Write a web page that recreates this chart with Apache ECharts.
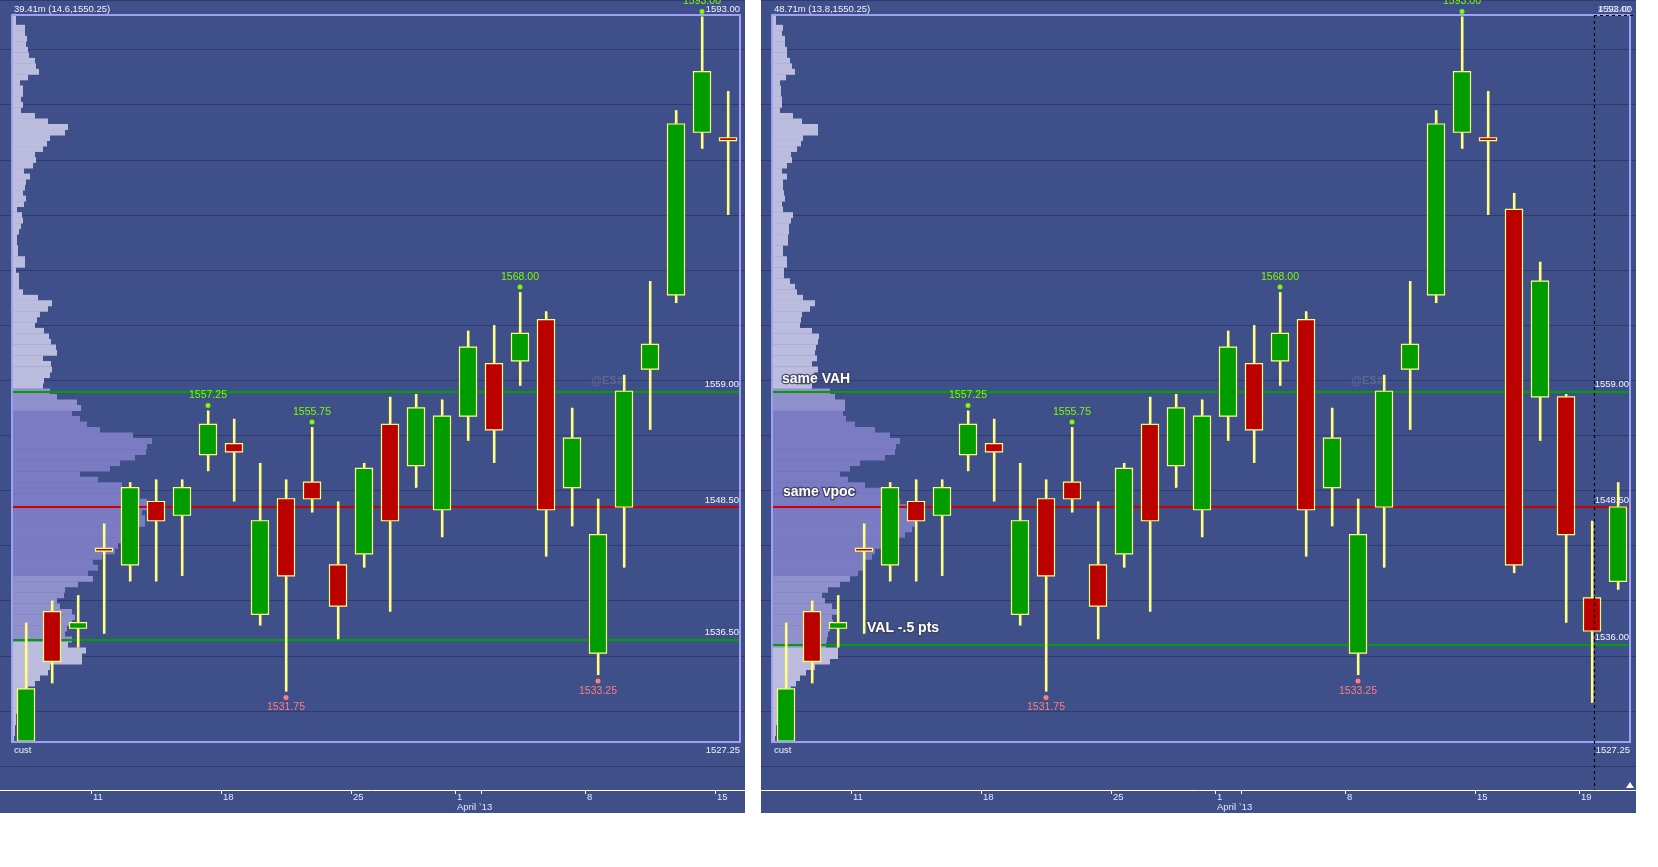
<!DOCTYPE html>
<html><head><meta charset="utf-8">
<script src="https://cdn.jsdelivr.net/npm/echarts@6/dist/echarts.min.js"></script>
<style>html,body{margin:0;padding:0;background:#fff}#c{width:1658px;height:867px}</style>
</head><body><div id="c"></div>
<script>
// ---------- DATA ----------
const dates = ['2013-03-06','2013-03-07','2013-03-08','2013-03-11','2013-03-12','2013-03-13','2013-03-14','2013-03-15',
  '2013-03-18','2013-03-19','2013-03-20','2013-03-21','2013-03-22','2013-03-25','2013-03-26','2013-03-27','2013-03-28',
  '2013-04-01','2013-04-02','2013-04-03','2013-04-04','2013-04-05','2013-04-08','2013-04-09','2013-04-10','2013-04-11',
  '2013-04-12','2013-04-15','2013-04-16','2013-04-17','2013-04-18','2013-04-19','2013-04-22'];
const opens  = [1527.25,1539,1537.5,1544.75,1543.25,1549,1547.75,1553.25,1554.25,1538.75,1549.25,1550.75,1543.25,1544.25,1556,1552.25,1548.25,1556.75,1561.5,1561.75,1565.5,1550.25,1535.25,1548.5,1561,1567.75,1582.5,1582,1575.5,1558.5,1558.5,1540.25,1541.75];
const highs  = [1538,1540,1540.5,1547,1550.75,1551,1551,1557.25,1556.5,1552.5,1551,1555.75,1549,1552.5,1558.5,1558.75,1558.25,1564.5,1565,1568,1566.25,1557.5,1549.25,1560.5,1569,1584.5,1593,1586.25,1577,1570.75,1558.75,1547.25,1550.75];
const lows   = [1527.25,1532.5,1535.75,1537,1541.75,1541.75,1542.25,1551.75,1549,1537.75,1531.75,1548,1536.5,1543,1539,1550.25,1545.75,1554.5,1552.5,1559.5,1544,1546.75,1533.25,1543,1555.5,1567,1581,1575,1542.5,1554.5,1538,1530.75,1541];
const closes = [1532,1534.5,1538,1544.5,1550.25,1547.25,1550.25,1556,1553.5,1547.25,1542.25,1549.25,1539.5,1552,1547.25,1557.5,1556.75,1563,1555.5,1564.25,1548.25,1554.75,1546,1559,1563.25,1583.25,1588,1581.75,1543.25,1569,1546,1537.25,1548.5];

const leftBars = 28;      // first panel ends 15 April
const rightBars = 33;     // second panel ends 22 April

// volume profile, price levels from profileTop downward in 0.5 pt steps (relative volume)
const profileTop = 1593;
const profileStep = 0.5;
const leftProfile = [3,3,12,12,14,13,15,16,22,23,26,15,7,10,10,8,10,8,22,35,55,52,37,34,30,22,23,20,11,17,
  13,12,10,13,11,4,9,10,8,6,4,4,5,5,12,12,3,6,6,6,10,25,39,35,27,24,22,31,36,38,
  43,44,30,38,39,37,31,30,37,44,64,68,59,67,74,87,120,139,134,133,122,107,97,67,85,109,127,127,134,134,
  129,132,132,122,110,110,105,102,89,80,85,75,80,65,52,51,44,47,59,62,59,54,52,59,55,73,69,69,37,35,
  27,22,15,9,7,5,4,3,3,2,2,1];
const rightProfile = [3,3,10,9,12,12,14,14,17,19,22,13,7,8,8,9,9,7,20,29,45,45,30,28,24,18,19,14,9,14,
  10,10,11,12,9,10,20,18,16,16,15,15,10,10,14,14,11,11,17,22,24,30,42,37,29,28,27,39,46,45,
  43,42,44,39,45,41,37,39,57,62,72,72,70,73,82,102,117,127,123,122,112,87,77,67,75,92,115,120,127,133,
  134,139,143,139,132,122,109,102,99,91,92,85,77,67,55,49,52,59,65,59,60,57,55,54,53,65,65,57,42,33,
  27,23,18,14,12,10,8,6,4,3,3,2];

// value area / vpoc levels
const leftLevels  = {vah: 1559.00, vpoc: 1548.50, val: 1536.50};
const rightLevels = {vah: 1559.00, vpoc: 1548.50, val: 1536.00};

// labelled swing highs / lows (bar index)
const highMarks = [7, 11, 19, 26];
const lowMarks  = [10, 22];

// time axis ticks (bar index where the tick sits at the left of the bar)
const tickIdx    = [3, 8, 13, 17, 18, 22, 27, 31];
const tickLabels = ['11','18','25','1\nApril `13','','8','15','19'];

const titles = ['39.41m (14.6,1550.25)', '48.71m (13.8,1550.25)'];
const notes = ['same VAH', 'same vpoc', 'VAL -.5 pts'];

// ---------- STYLE ----------
const BG = '#3f4f8a', GRIDC = '#2f3b6c', BORDER = '#a0a0f2';
const UP = '#009c00', DOWN = '#bb0000', WICK = '#ffff80';
const FONT = 'Liberation Sans';
const TOP = 0, BOTTOM = 101, YMIN = 1525, YMAX = 1594.5;

function ohlc(n){
  const out = [];
  for (let i = 0; i < n; i++) out.push([opens[i], closes[i], lows[i], highs[i]]);
  return out;
}
function wickData(n){
  const out = [];
  for (let i = 0; i < n; i++) out.push([i, opens[i], closes[i], lows[i], highs[i]]);
  return out;
}
function wickRender(params, api){
  const k = api.value(0), o = api.value(1), c = api.value(2), lo = api.value(3), hi = api.value(4);
  const top = Math.max(o, c), bot = Math.min(o, c);
  const pH = api.coord([k, hi]), pT = api.coord([k, top]), pB = api.coord([k, bot]), pL = api.coord([k, lo]);
  const x = Math.round(pH[0]) + 0.5;
  const st = {stroke: WICK, lineWidth: 2};
  const kids = [];
  if (pT[1] - pH[1] > 0.5) kids.push({type: 'line', shape: {x1: x, y1: pH[1], x2: x, y2: pT[1] - 0.5}, style: st});
  if (pL[1] - pB[1] > 0.5) kids.push({type: 'line', shape: {x1: x, y1: pB[1] + 0.5, x2: x, y2: pL[1]}, style: st});
  return {type: 'group', children: kids};
}
function profileData(arr){
  return arr.map((v, i) => [v, profileTop - profileStep * i]);
}
function profileRender(levels){
  return function(params, api){
    const v = api.value(0), p = api.value(1);
    const a = api.coord([0, p + profileStep / 2]);
    const b = api.coord([v, p - profileStep / 2]);
    const inVA = p <= levels.vah && p >= levels.val;
    const nearPoc = Math.abs(p - levels.vpoc) <= 6 || Math.abs(p - 1554.5) <= 2.5;
    return {type: 'rect', shape: {x: a[0], y: a[1], width: b[0] - a[0], height: b[1] - a[1] + 0.4},
      style: {fill: inVA ? (nearPoc ? '#7b7bc4' : '#9090cc') : '#bcbcdf'}};
  };
}
function tickFormatter(value){
  const k = Math.round(value + 0.5);
  const j = tickIdx.indexOf(k);
  return j >= 0 ? tickLabels[j] : '';
}

function panel(gBg, gMain, n, plotWidth){
  const cats = dates.slice(0, n);
  const tv = tickIdx.filter(k => k < n).map(k => k - 0.5);
  const xAxes = [
    {gridIndex: gBg, type: 'value', min: 0, max: 1, show: false},
    {gridIndex: gMain, type: 'category', data: cats, boundaryGap: true, show: false},
    {gridIndex: gMain, type: 'value', min: -0.5, max: n - 0.5, position: 'bottom', offset: 24,
      axisLine: {show: false}, splitLine: {show: false},
      axisTick: {show: true, customValues: tv, length: 4, inside: false, lineStyle: {color: '#ffffff', width: 1}},
      axisLabel: {show: true, customValues: tv, formatter: tickFormatter, align: 'left', margin: 2,
        color: '#e6e8ff', fontSize: 9.5, fontFamily: FONT, lineHeight: 10, padding: [0,0,0,2]}},
    {gridIndex: gMain, type: 'value', min: 0, max: plotWidth, show: false}
  ];
  const yAxes = [
    {gridIndex: gBg, type: 'value', min: YMIN, max: YMAX, interval: 5,
      axisLine: {show: false}, axisTick: {show: false}, axisLabel: {show: false},
      splitLine: {show: true, lineStyle: {color: GRIDC, width: 1.2}}},
    {gridIndex: gMain, type: 'value', min: YMIN, max: YMAX, show: false, splitLine: {show: false}}
  ];
  return {xAxes, yAxes};
}

const chart = echarts.init(document.getElementById('c'), null, {renderer: 'canvas'});

const grids = [
  {left: 0, width: 745, top: TOP, bottom: BOTTOM},
  {left: 13, width: 728, top: TOP, bottom: BOTTOM},
  {left: 761, width: 875, top: TOP, bottom: BOTTOM},
  {left: 773, width: 858, top: TOP, bottom: BOTTOM}
];
const L = panel(0, 1, leftBars, 728);
const R = panel(2, 3, rightBars, 858);
const xAxis = L.xAxes.concat(R.xAxes);
const yAxis = L.yAxes.concat(R.yAxes);

function candleSeries(n, xIdx, yIdx, levels){
  const cats = dates.slice(0, n);
  const lvl = (v, c) => ({yAxis: v, lineStyle: {color: c, width: 2, type: 'solid'}});
  return {
    type: 'candlestick', xAxisIndex: xIdx, yAxisIndex: yIdx, z: 5,
    data: ohlc(n), barWidth: 18,
    itemStyle: {color: UP, color0: DOWN, borderColor: WICK, borderColor0: WICK, borderWidth: 1.2},
    markLine: {silent: true, symbol: ['none','none'], animation: false,
      label: {show: true, position: 'insideEndTop', formatter: p => p.value.toFixed(2),
        color: '#f4f4ff', fontSize: 9.5, fontFamily: FONT, distance: 2, padding: 0},
      data: [lvl(levels.vah, '#00a000'), lvl(levels.vpoc, '#cc0000'), lvl(levels.val, '#00a000')]},
    markPoint: {silent: true, animation: false,
      data: highMarks.filter(k => k < n).map(k => ({coord: [cats[k], highs[k]], value: highs[k],
          symbol: 'circle', symbolSize: 5, symbolOffset: [0, -5], itemStyle: {color: '#7cfc00'},
          label: {show: true, position: 'top', distance: 2, color: '#7cfc00', fontSize: 10.5, fontFamily: FONT,
            formatter: p => p.value.toFixed(2)}}))
        .concat(lowMarks.filter(k => k < n).map(k => ({coord: [cats[k], lows[k]], value: lows[k],
          symbol: 'circle', symbolSize: 5, symbolOffset: [0, 6], itemStyle: {color: '#ff7f7f'},
          label: {show: true, position: 'bottom', distance: 2, color: '#ff7f7f', fontSize: 10.5, fontFamily: FONT,
            formatter: p => p.value.toFixed(2)}})))}
  };
}
function wickSeries(n, xIdx, yIdx){
  return {type: 'custom', xAxisIndex: xIdx, yAxisIndex: yIdx, z: 6, silent: true,
    data: wickData(n), renderItem: wickRender};
}

const series = [
  {type: 'custom', xAxisIndex: 3, yAxisIndex: 1, z: 2, data: profileData(leftProfile), renderItem: profileRender(leftLevels), silent: true},
  candleSeries(leftBars, 1, 1, leftLevels),
  wickSeries(leftBars, 1, 1),
  {type: 'custom', xAxisIndex: 7, yAxisIndex: 3, z: 2, data: profileData(rightProfile), renderItem: profileRender(rightLevels), silent: true},
  candleSeries(rightBars, 5, 3, rightLevels),
  wickSeries(rightBars, 5, 3)
];

const txt = (x, y, s, o) => Object.assign({type: 'text', x, y, z: 50, silent: true,
  style: Object.assign({text: s, fill: '#f2f2ff', font: '9.5px ' + FONT, textVerticalAlign: 'middle'}, o || {})});
const noteStyle = {fill: '#ffffff', font: 'bold 14px ' + FONT, stroke: 'rgba(60,64,100,0.9)', lineWidth: 2.5};

const graphic = [
  {type: 'rect', z: -10, silent: true, shape: {x: 0, y: 0, width: 745, height: 813}, style: {fill: BG}},
  {type: 'rect', z: -10, silent: true, shape: {x: 761, y: 0, width: 875, height: 813}, style: {fill: BG}},
  {type: 'rect', z: 40, silent: true, shape: {x: 12, y: 15, width: 728, height: 727}, style: {fill: null, stroke: BORDER, lineWidth: 2}},
  {type: 'rect', z: 40, silent: true, shape: {x: 772, y: 15, width: 858, height: 727}, style: {fill: null, stroke: BORDER, lineWidth: 2}},
  {type: 'line', z: 40, silent: true, shape: {x1: 0, y1: 790.5, x2: 745, y2: 790.5}, style: {stroke: '#ffffff', lineWidth: 1}},
  {type: 'line', z: 40, silent: true, shape: {x1: 761, y1: 790.5, x2: 1636, y2: 790.5}, style: {stroke: '#ffffff', lineWidth: 1}},
  {type: 'line', z: 45, silent: true, shape: {x1: 1594.5, y1: 15, x2: 1594.5, y2: 790}, style: {stroke: '#000000', lineWidth: 1.2, lineDash: [3, 3]}},
  {type: 'line', z: 45, silent: true, shape: {x1: 1594, y1: 15.5, x2: 1636, y2: 15.5}, style: {stroke: '#000000', lineWidth: 1, lineDash: [3, 3]}},
  {type: 'polygon', z: 45, silent: true, shape: {points: [[1626, 788], [1634, 788], [1630, 782]]}, style: {fill: '#ffffff'}},
  txt(14, 9, titles[0]),
  txt(774, 9, titles[1]),
  txt(14, 750, 'cust'),
  txt(774, 750, 'cust'),
  txt(740, 9, '1593.00', {textAlign: 'right'}),
  txt(1632, 9, '1593.00', {textAlign: 'right'}),
  txt(1630, 9, '4:59:40', {textAlign: 'right', fill: 'rgba(235,235,255,0.7)'}),
  txt(740, 750, '1527.25', {textAlign: 'right'}),
  txt(1630, 750, '1527.25', {textAlign: 'right'}),
  txt(607, 381, '@ES#', {textAlign: 'center', fill: 'rgba(150,152,180,0.35)', font: 'bold 11px ' + FONT}),
  txt(1367, 381, '@ES#', {textAlign: 'center', fill: 'rgba(150,152,180,0.35)', font: 'bold 11px ' + FONT}),
  txt(782, 379, notes[0], noteStyle),
  txt(783, 492, notes[1], noteStyle),
  txt(867, 628, notes[2], noteStyle)
];

chart.setOption({
  animation: false,
  backgroundColor: '#ffffff',
  grid: grids,
  xAxis, yAxis, series, graphic
});
</script></body></html>
